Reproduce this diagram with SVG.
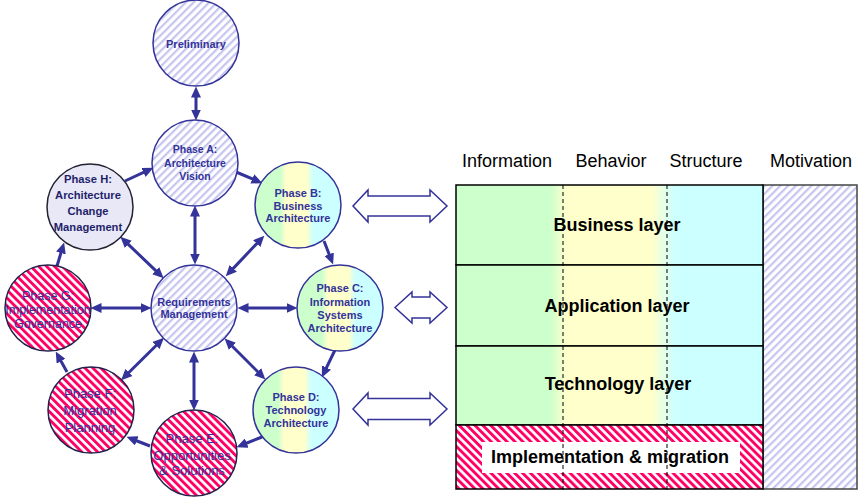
<svg xmlns="http://www.w3.org/2000/svg" width="861" height="501" viewBox="0 0 861 501">
<style>
.c{stroke:#333399;stroke-width:1.5}
.cd{stroke:#22224d;stroke-width:1.5}
.t{font-family:"Liberation Sans",Arial,sans-serif;font-weight:bold;font-size:11px;fill:#333399;text-anchor:middle}
.tn{font-family:"Liberation Sans",Arial,sans-serif;font-size:12.5px;fill:#333399;text-anchor:middle}
.hd{font-family:"Liberation Sans",Arial,sans-serif;font-size:18px;fill:#000;text-anchor:middle}
.lb{font-family:"Liberation Sans",Arial,sans-serif;font-size:18px;font-weight:bold;fill:#000;text-anchor:middle}
.ar{fill:none;stroke:#333399;stroke-width:3}
.ha{fill:#fff;stroke:#333399;stroke-width:1.5}
.dash{stroke:#000;stroke-width:1;stroke-dasharray:4,3}
</style>
<defs>
<pattern id="blue" width="5.5" height="10" patternUnits="userSpaceOnUse" patternTransform="rotate(45)">
<rect width="5.5" height="10" fill="#fff"/><rect width="2.2" height="10" fill="#c5c5ef"/>
</pattern>
<pattern id="red" width="5.6" height="10" patternUnits="userSpaceOnUse" patternTransform="rotate(-45)">
<rect width="5.6" height="10" fill="#fff"/><rect width="2.9" height="10" fill="#ff0066"/>
</pattern>
<linearGradient id="gc" x1="0" y1="0" x2="1" y2="0">
<stop offset="0" stop-color="#ccffcc"/><stop offset="0.29" stop-color="#ccffcc"/>
<stop offset="0.36" stop-color="#ffffcc"/><stop offset="0.6" stop-color="#ffffcc"/>
<stop offset="0.68" stop-color="#ccffff"/><stop offset="1" stop-color="#ccffff"/>
</linearGradient>
<linearGradient id="gr" gradientUnits="userSpaceOnUse" x1="456" y1="0" x2="763" y2="0">
<stop offset="0" stop-color="#ccffcc"/><stop offset="0.306" stop-color="#ccffcc"/>
<stop offset="0.36" stop-color="#ffffcc"/><stop offset="0.64" stop-color="#ffffcc"/>
<stop offset="0.713" stop-color="#ccffff"/><stop offset="1" stop-color="#ccffff"/>
</linearGradient>
<marker id="ah" viewBox="0 0 11 10" refX="6.5" refY="5" markerWidth="11" markerHeight="10" markerUnits="userSpaceOnUse" orient="auto-start-reverse">
<path d="M0,0 L11,5 L0,10 z" fill="#333399"/>
</marker>
</defs>

<g id="connectors">
<line class="ar" x1="196" y1="91" x2="196" y2="116" marker-start="url(#ah)" marker-end="url(#ah)"/>
<line class="ar" x1="236" y1="172" x2="258.3" y2="181.4" marker-end="url(#ah)"/>
<line class="ar" x1="324" y1="241" x2="331.5" y2="260.3" marker-end="url(#ah)"/>
<line class="ar" x1="335" y1="350" x2="323.7" y2="373.4" marker-end="url(#ah)"/>
<line class="ar" x1="262" y1="437" x2="240.7" y2="445.5" marker-end="url(#ah)"/>
<line class="ar" x1="150" y1="446" x2="130.7" y2="438.5" marker-end="url(#ah)"/>
<line class="ar" x1="67" y1="372" x2="57.9" y2="355.5" marker-end="url(#ah)"/>
<line class="ar" x1="57" y1="266" x2="62.8" y2="246.8" marker-end="url(#ah)"/>
<line class="ar" x1="125" y1="181" x2="149.4" y2="169.7" marker-end="url(#ah)"/>
<line class="ar" x1="195" y1="210" x2="195" y2="260" marker-start="url(#ah)" marker-end="url(#ah)"/>
<line class="ar" x1="261.2" y1="238.9" x2="228.8" y2="273.1" marker-start="url(#ah)" marker-end="url(#ah)"/>
<line class="ar" x1="242" y1="308" x2="293" y2="308" marker-start="url(#ah)" marker-end="url(#ah)"/>
<line class="ar" x1="227.8" y1="341.8" x2="262.2" y2="376.2" marker-start="url(#ah)" marker-end="url(#ah)"/>
<line class="ar" x1="194" y1="356" x2="194" y2="406" marker-start="url(#ah)" marker-end="url(#ah)"/>
<line class="ar" x1="160.7" y1="341" x2="124.3" y2="377" marker-start="url(#ah)" marker-end="url(#ah)"/>
<line class="ar" x1="147" y1="308" x2="95" y2="308" marker-start="url(#ah)" marker-end="url(#ah)"/>
<line class="ar" x1="160.4" y1="275.2" x2="123.6" y2="239.8" marker-start="url(#ah)" marker-end="url(#ah)"/>
<polygon class="ha" points="353,206 368,190 368,196 430,196 430,190 447,206 430,222 430,216 368,216 368,222"/>
<polygon class="ha" points="395,307.5 412,292 412,297 430,297 430,292 447,307.5 430,323 430,318 412,318 412,323"/>
<polygon class="ha" points="353,409 368,393 368,398.5 430,398.5 430,393 447,409 430,425 430,419.5 368,419.5 368,425"/>
</g>

<g id="preliminary">
<circle class="c" cx="196" cy="43" r="43" fill="url(#blue)"/>
<text class="t" x="196" y="48">Preliminary</text>
</g>
<g id="phaseA">
<circle class="c" cx="195" cy="163" r="43" fill="url(#blue)"/>
<text class="t" style="font-size:10.5px" x="195" y="153">Phase A:</text>
<text class="t" style="font-size:10.5px" x="195" y="167">Architecture</text>
<text class="t" style="font-size:10.5px" x="195" y="180">Vision</text>
</g>
<g id="phaseB">
<circle class="c" cx="298" cy="205" r="43" fill="url(#gc)"/>
<text class="t" x="298" y="197">Phase B:</text>
<text class="t" x="298" y="210">Business</text>
<text class="t" x="298" y="222">Architecture</text>
</g>
<g id="phaseC">
<circle class="c" cx="340" cy="308" r="43" fill="url(#gc)"/>
<text class="t" x="340" y="292">Phase C:</text>
<text class="t" x="340" y="306">Information</text>
<text class="t" x="340" y="319">Systems</text>
<text class="t" x="340" y="332">Architecture</text>
</g>
<g id="phaseD">
<circle class="c" cx="296" cy="410" r="43" fill="url(#gc)"/>
<text class="t" x="296" y="401">Phase D:</text>
<text class="t" x="296" y="414">Technology</text>
<text class="t" x="296" y="427">Architecture</text>
</g>
<g id="phaseE">
<circle class="cd" cx="194" cy="453" r="43" fill="url(#red)"/>
<text class="tn" style="font-size:13px" x="192" y="442.5">Phase E:</text>
<text class="tn" style="font-size:13px" x="192" y="459.5">Opportunities</text>
<text class="tn" style="font-size:13px" x="192" y="474.5">&amp; Solutions</text>
</g>
<g id="phaseF">
<circle class="cd" cx="91" cy="410" r="43" fill="url(#red)"/>
<text class="tn" style="font-size:13px" x="90" y="397.5">Phase F:</text>
<text class="tn" style="font-size:13px" x="90" y="414.5">Migration</text>
<text class="tn" style="font-size:13px" x="90" y="431.5">Planning</text>
</g>
<g id="phaseG">
<circle class="cd" cx="48" cy="308" r="43" fill="url(#red)"/>
<text class="tn" x="48" y="299.5">Phase G:</text>
<text class="tn" x="48" y="313.5">Implementation</text>
<text class="tn" x="48" y="327.5">Governance</text>
</g>
<g id="phaseH">
<circle cx="90" cy="207" r="43" fill="#e8e8f6" stroke="#222233" stroke-width="1.5"/>
<text class="t" style="fill:#1f1f6b;font-size:11.2px" x="88" y="183">Phase H:</text>
<text class="t" style="fill:#1f1f6b;font-size:11.2px" x="88" y="199">Architecture</text>
<text class="t" style="fill:#1f1f6b;font-size:11.2px" x="88" y="215">Change</text>
<text class="t" style="fill:#1f1f6b;font-size:11.2px" x="88" y="231">Management</text>
</g>
<g id="requirements">
<circle class="c" cx="194" cy="308" r="43" fill="url(#blue)"/>
<text class="t" x="194" y="305.5">Requirements</text>
<text class="t" x="194" y="318">Management</text>
</g>

<g id="headers">
<text class="hd" x="507" y="167">Information</text>
<text class="hd" x="611" y="167">Behavior</text>
<text class="hd" x="706" y="167">Structure</text>
<text class="hd" x="811" y="167">Motivation</text>
</g>
<g id="motivation">
<rect x="763" y="185" width="94" height="304" fill="url(#blue)" stroke="#444" stroke-width="1.5"/>
</g>
<g id="business-layer">
<rect x="456" y="185" width="307" height="80" fill="url(#gr)" stroke="#000" stroke-width="1.5"/>
<text class="lb" x="617" y="231">Business layer</text>
</g>
<g id="application-layer">
<rect x="456" y="265" width="307" height="81" fill="url(#gr)" stroke="#000" stroke-width="1.5"/>
<text class="lb" x="617" y="312">Application layer</text>
</g>
<g id="technology-layer">
<rect x="456" y="346" width="307" height="79" fill="url(#gr)" stroke="#000" stroke-width="1.5"/>
<text class="lb" x="618" y="390">Technology layer</text>
</g>
<g id="implementation">
<rect x="456" y="425" width="307" height="64" fill="url(#red)" stroke="#000" stroke-width="1.5"/>
<rect x="482" y="442" width="258" height="31" fill="#fff"/>
<text class="lb" x="610" y="463">Implementation &amp; migration</text>
</g>
<g id="dividers">
<line class="dash" x1="563" y1="185" x2="563" y2="492"/>
<line class="dash" x1="667" y1="185" x2="667" y2="492"/>
</g>
</svg>
